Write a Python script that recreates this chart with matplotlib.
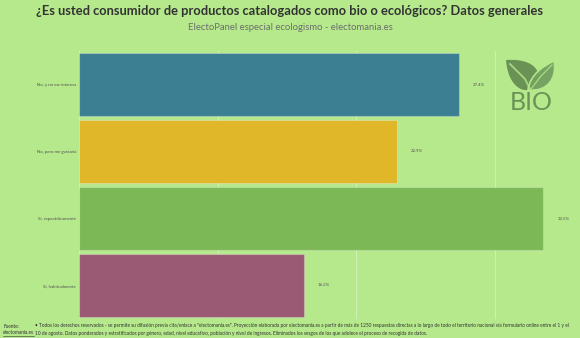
import matplotlib
matplotlib.use("Agg")
import matplotlib.pyplot as plt
from matplotlib.patches import PathPatch
from matplotlib.path import Path

categories = ["No, y no me interesa", "No, pero me gustaría", "Sí, esporádicamente", "Sí, habitualmente"]
values = [27.4, 22.9, 33.5, 16.2]
colors = ["#3d7f92", "#e1b72a", "#7db857", "#9b5a73"]
value_labels = [f"{v:.1f}%" for v in values]

title = "¿Es usted consumidor de productos catalogados como bio o ecológicos? Datos generales"
subtitle = "ElectoPanel especial ecologismo - electomania.es"
footer_1 = ("• Todos los derechos reservados - se permite su difusión previa cita/enlace a \"electomania.es\". "
            "Proyección elaborada por electomania.es a partir de más de 1250 respuestas directas a lo largo de todo "
            "el territorio nacional vía formulario online entre el 1 y el")
footer_2 = ("10 de agosto. Datos ponderados y estratificados por género, edad, nivel educativo, población y nivel de "
            "ingresos. Eliminados los sesgos de los que adolece el proceso de recogida de datos.")

bg = "#b5e98c"
W, H = 580, 338
fig = plt.figure(figsize=(W / 100, H / 100), dpi=100, facecolor=bg)

ax = fig.add_axes([79 / W, 1 - 319 / H, (574 - 79) / W, (319 - 51) / H], facecolor=bg)
ypos = list(range(len(categories)))
ax.barh(ypos, values, height=0.955, color=colors, edgecolor=(1, 1, 1, 0.25), linewidth=0.8, zorder=2)
ax.set_ylim(len(categories) - 0.5, -0.5)
ax.set_xlim(0, 35.7)
ax.set_xticks([0, 10, 20, 30])
ax.grid(axis="x", color="white", alpha=0.35, linewidth=0.8, zorder=0)
ax.tick_params(axis="both", length=0, labelbottom=False)
ax.set_yticks(ypos)
ax.set_yticklabels(categories, fontsize=3.2, color="#555555", family="Lato")
ax.tick_params(axis="y", pad=2)
for s in ax.spines.values():
    s.set_visible(False)

for y, v, lab in zip(ypos, values, value_labels):
    ax.text(v + 1.45, y, lab, fontsize=3.2, color="#555555", ha="center", va="center", family="Lato")

fig.text(0.5, 1 - 11 / H, title, ha="center", va="center", fontsize=9.3, fontweight="bold",
         color="#333333", family="Lato")
fig.text(0.5, 1 - 28 / H, subtitle, ha="center", va="center", fontsize=6.8, color="#6e6e6e", family="Lato")

# footer
fs = 3.45
fig.text(4 / W, 1 - 326 / H, "Fuente:", fontsize=fs, color="#333333", va="center", family="Lato")
fig.text(35 / W, 1 - 326 / H, footer_1, fontsize=fs, color="#333333", va="center", family="Lato")
fig.text(3 / W, 1 - 333 / H, "electomania.es", fontsize=fs, color="#333333", va="center", family="Lato")
fig.text(35 / W, 1 - 333 / H, footer_2, fontsize=fs, color="#333333", va="center", family="Lato")
fig.add_artist(plt.Line2D([3 / W, 34 / W], [1 - 335.5 / H, 1 - 335.5 / H], color="#333333", lw=0.4))

# BIO logo
logo_col = "#62894f"
lax = fig.add_axes([500 / W, 1 - 118 / H, 60 / W, 62 / H])
lax.set_xlim(0, 60)
lax.set_ylim(62, 0)
lax.axis("off")
big_leaf = Path([(6, 4), (36, 2), (44, 18), (35, 30), (26, 40), (8, 32), (6, 4), (6, 4)],
                [Path.MOVETO, Path.CURVE4, Path.CURVE4, Path.CURVE4, Path.CURVE4, Path.CURVE4, Path.CURVE4,
                 Path.CLOSEPOLY])
lax.add_patch(PathPatch(big_leaf, facecolor=logo_col, edgecolor="none", alpha=0.9))
small_leaf = Path([(28, 34), (30, 18), (44, 10), (54, 5), (57, 22), (48, 36), (28, 34), (28, 34)],
                  [Path.MOVETO, Path.CURVE4, Path.CURVE4, Path.CURVE4, Path.CURVE4, Path.CURVE4, Path.CURVE4,
                   Path.CLOSEPOLY])
lax.add_patch(PathPatch(small_leaf, facecolor="#74a060", edgecolor=bg, lw=1.2, alpha=0.95))
lax.plot([10, 25, 30], [8, 23, 33], color=bg, lw=1.3, alpha=0.8)
lax.plot([52, 41, 31], [9, 20, 33], color=bg, lw=0.9, alpha=0.8)
lax.text(31, 47, "BIO", ha="center", va="center", fontsize=18, color=logo_col, alpha=0.9,
         family="Lato")

fig.savefig("out.png", dpi=100, facecolor=bg)
